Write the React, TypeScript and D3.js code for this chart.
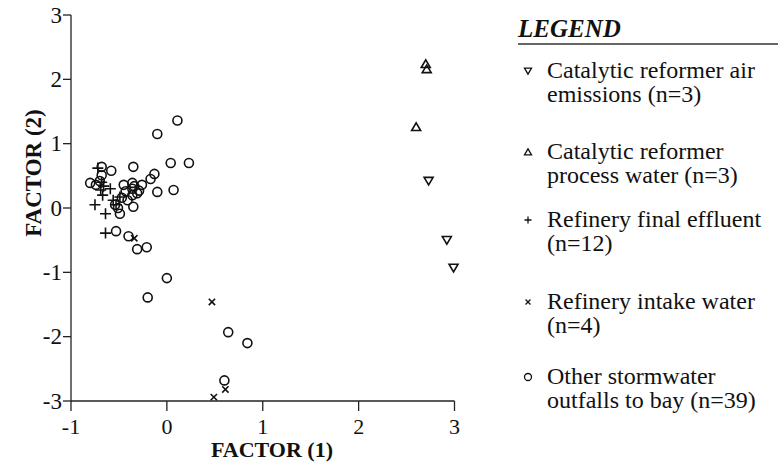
import React from 'react';
import * as d3 from 'd3';

// factor scores
const airEmissions = [[2.73, 0.42], [2.92, -0.5], [2.99, -0.93]];
const processWater = [[2.7, 2.24], [2.71, 2.16], [2.6, 1.26]];
const finalEffluent = [
  [-0.72, 0.62], [-0.68, 0.4], [-0.66, 0.34], [-0.59, 0.3], [-0.67, 0.2], [-0.56, 0.12],
  [-0.49, 0.17], [-0.75, 0.05], [-0.64, -0.09], [-0.64, -0.39], [-0.69, 0.28], [-0.53, 0.05],
];
const intakeWater = [[0.47, -1.46], [0.61, -2.82], [0.49, -2.94], [-0.34, -0.47]];
const stormwater = [
  [0.11, 1.36], [-0.1, 1.15], [0.04, 0.7], [0.23, 0.7], [-0.35, 0.64], [-0.58, 0.58],
  [-0.68, 0.64], [-0.68, 0.51], [-0.8, 0.39], [-0.74, 0.36], [-0.13, 0.53], [-0.17, 0.45],
  [-0.26, 0.36], [-0.45, 0.36], [-0.36, 0.39], [-0.36, 0.3], [-0.31, 0.23], [-0.36, 0.2],
  [-0.1, 0.25], [0.07, 0.28], [-0.47, 0.16], [-0.41, 0.12], [-0.54, 0.05], [-0.51, 0.0],
  [-0.35, 0.02], [-0.49, -0.09], [-0.53, -0.36], [-0.4, -0.44], [-0.31, -0.64], [-0.21, -0.61],
  [0.0, -1.09], [-0.2, -1.39], [0.64, -1.93], [0.84, -2.1], [0.6, -2.68], [-0.34, 0.34],
  [-0.29, 0.27], [-0.7, 0.42], [-0.43, 0.26],
];

const xTicks = [-1, 0, 1, 2, 3];
const yTicks = [-3, -2, -1, 0, 1, 2, 3];

const legendItems = [
  { symbol: 'down', lines: ['Catalytic reformer air', 'emissions (n=3)'] },
  { symbol: 'up', lines: ['Catalytic reformer', 'process water (n=3)'] },
  { symbol: 'plus', lines: ['Refinery final effluent', '(n=12)'] },
  { symbol: 'cross', lines: ['Refinery intake water', '(n=4)'] },
  { symbol: 'circle', lines: ['Other stormwater', 'outfalls to bay (n=39)'] },
];

const font = "'Liberation Serif', 'Times New Roman', Times, serif";

function symbolPath(kind: string, s: number) {
  const h = s / 2;
  switch (kind) {
    case 'down':
      return `M${-h},${-h * 0.8}L${h},${-h * 0.8}L0,${h * 0.9}Z`;
    case 'up':
      return `M${-h},${h * 0.8}L${h},${h * 0.8}L0,${-h * 0.9}Z`;
    case 'plus':
      return `M${-h},0L${h},0M0,${-h}L0,${h}`;
    case 'cross':
      return `M${-h * 0.7},${-h * 0.7}L${h * 0.7},${h * 0.7}M${-h * 0.7},${h * 0.7}L${h * 0.7},${-h * 0.7}`;
    default:
      return '';
  }
}

const Marker = ({ kind, x, y, size, sw }: { kind: string; x: number; y: number; size: number; sw: number }) =>
  kind === 'circle' ? (
    <circle cx={x} cy={y} r={size / 2} fill="none" stroke="#111" strokeWidth={sw} />
  ) : (
    <path d={symbolPath(kind, size)} transform={`translate(${x},${y})`} fill="none" stroke="#111" strokeWidth={sw} />
  );

export default function App() {
  const width = 778;
  const height = 463;
  const x = d3.scaleLinear().domain([-1, 3]).range([71, 454.5]);
  const y = d3.scaleLinear().domain([-3, 3]).range([401, 15]);

  const series = [
    { kind: 'circle', data: stormwater, size: 9 },
    { kind: 'plus', data: finalEffluent, size: 11 },
    { kind: 'cross', data: intakeWater, size: 9 },
    { kind: 'down', data: airEmissions, size: 9 },
    { kind: 'up', data: processWater, size: 9 },
  ];

  const legendTop = [78, 159, 227, 309, 384];
  const txt = { fontFamily: font, fill: '#111' };

  return (
    <svg width={width} height={height} style={{ position: 'absolute', left: 0, top: 0, background: '#fff' }}>
      {/* axes */}
      <line x1={x(-1)} x2={x(3)} y1={y(-3)} y2={y(-3)} stroke="#222" strokeWidth={1.3} />
      <line x1={x(-1)} x2={x(-1)} y1={y(-3)} y2={y(3)} stroke="#222" strokeWidth={1.3} />
      {xTicks.map((t) => (
        <g key={'x' + t}>
          <line x1={x(t)} x2={x(t)} y1={y(-3)} y2={y(-3) + 10} stroke="#222" strokeWidth={1.3} />
          <text x={x(t)} y={434} textAnchor="middle" fontSize={22} style={txt}>{String(t)}</text>
        </g>
      ))}
      {yTicks.map((t) => (
        <g key={'y' + t}>
          <line x1={x(-1) - 8} x2={x(-1)} y1={y(t)} y2={y(t)} stroke="#222" strokeWidth={1.3} />
          <text x={62} y={y(t)} dy="0.34em" textAnchor="end" fontSize={23} style={txt}>{String(t)}</text>
        </g>
      ))}
      <text x={272} y={457} textAnchor="middle" fontSize={22} fontWeight="bold" style={txt}>FACTOR (1)</text>
      <text transform="translate(41,173) rotate(-90)" textAnchor="middle" fontSize={23} fontWeight="bold" style={txt}>FACTOR (2)</text>

      {/* points */}
      {series.map((s) =>
        s.data.map((d, i) => <Marker key={s.kind + i} kind={s.kind} x={x(d[0])} y={y(d[1])} size={s.size} sw={1.6} />)
      )}

      {/* legend */}
      <text x={518} y={37} fontSize={25} fontWeight="bold" fontStyle="italic" style={txt}>LEGEND</text>
      <line x1={518} x2={778} y1={44} y2={44} stroke="#333" strokeWidth={1.3} />
      {legendItems.map((item, i) => (
        <g key={item.symbol}>
          <Marker kind={item.symbol} x={528} y={legendTop[i] - 7} size={7} sw={1.3} />
          {item.lines.map((ln, j) => (
            <text key={j} x={547} y={legendTop[i] + j * 24} fontSize={24} style={txt}>{ln}</text>
          ))}
        </g>
      ))}
    </svg>
  );
}
